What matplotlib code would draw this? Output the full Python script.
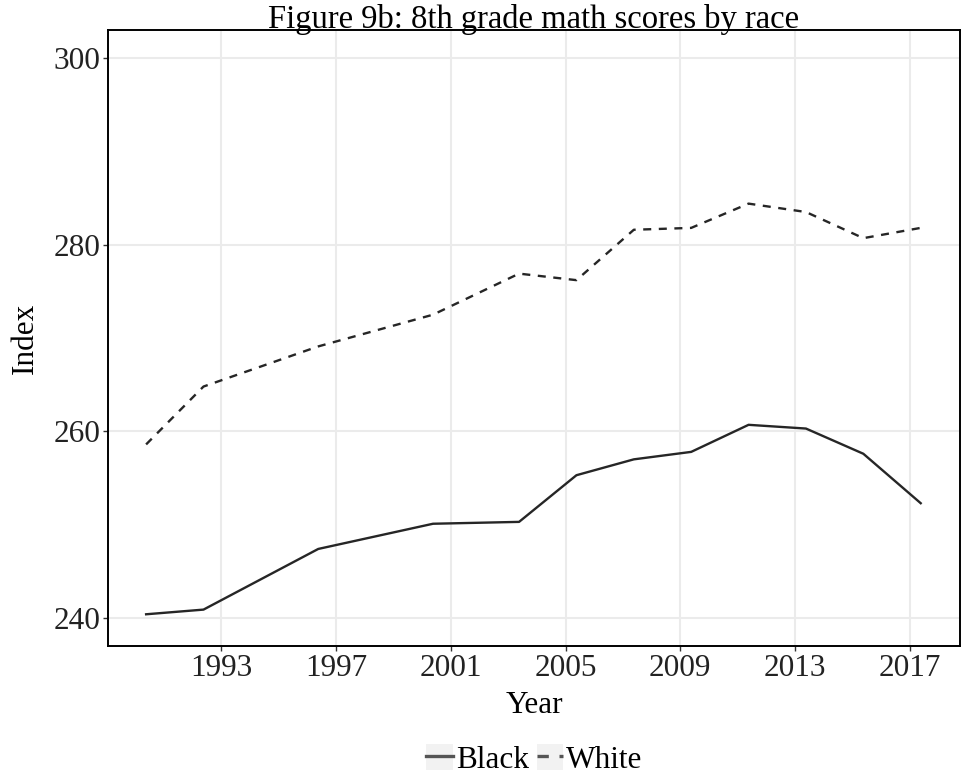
import matplotlib
matplotlib.use("Agg")
import matplotlib.pyplot as plt
import numpy as np
from matplotlib.legend_handler import HandlerLine2D
from matplotlib.patches import Rectangle

# NAEP 8th grade math, average scale score by race
years = [1990, 1992, 1996, 2000, 2003, 2005, 2007, 2009, 2011, 2013, 2015, 2017]
black = [240.4, 240.9, 247.4, 250.1, 250.3, 255.3, 257.0, 257.8, 260.7, 260.3, 257.6, 252.3]
white = [258.6, 264.8, 269.1, 272.5, 276.9, 276.2, 281.6, 281.8, 284.4, 283.5, 280.7, 281.8]

xticks = [1993, 1997, 2001, 2005, 2009, 2013, 2017]
yticks = [240, 260, 280, 300]

plt.rcParams['font.family'] = ['Liberation Serif', 'DejaVu Serif']
FS = 22.5
line_col = '#262626'
grid_col = '#ebebeb'


class KeyHandler(HandlerLine2D):
    # legend key drawn on a light grey square, ggplot style
    def create_artists(self, legend, orig_handle, xdescent, ydescent,
                       width, height, fontsize, trans):
        bg = Rectangle((-xdescent, -ydescent), width, height,
                       facecolor='#f2f2f2', edgecolor='none', transform=trans)
        arts = super().create_artists(legend, orig_handle, xdescent, ydescent,
                                      width, height, fontsize, trans)
        return [bg] + list(arts)


# survey dates fall in late spring, so points sit a bit past the year mark
x = np.array(years) + 0.38

fig = plt.figure(figsize=(9.63, 7.82), dpi=100)
ax = fig.add_axes([0.1121, 0.1739, 0.8848, 0.7877])

ax.plot(x, black, color=line_col, lw=1.7, solid_joinstyle='round', label='Black')
ax.plot(x, white, color=line_col, lw=1.7, linestyle=(0, (3.4, 3.2)), label='White')

ax.set_xlim(1989.05, 2018.75)
ax.set_ylim(237, 303)
ax.set_xticks(xticks)
ax.set_yticks(yticks)
ax.grid(True, color=grid_col, lw=1.5, zorder=0)
ax.set_axisbelow(True)

for s in ax.spines.values():
    s.set_linewidth(1.4)
    s.set_color('black')

ax.tick_params(axis='both', which='major', length=3.5, width=1.0, color='#333333',
               labelsize=FS, labelcolor='#222222', pad=2)

# title baseline sits right on the top border
ax.set_title('Figure 9b: 8th grade math scores by race', fontsize=23.5, y=1.003, pad=0)
ax.set_xlabel('Year', fontsize=FS, labelpad=6)
ax.set_ylabel('Index', fontsize=FS, labelpad=10)

handles, labels = ax.get_legend_handles_labels()
for h in handles:
    h.set_color('#555555')
    h.set_linewidth(2.4)
leg = fig.legend(handles, labels, loc='center', bbox_to_anchor=(0.555, 0.029),
                 ncol=2, frameon=False, fontsize=FS, handlelength=0.85,
                 handleheight=0.9, handletextpad=0.1, columnspacing=0.25,
                 handler_map={type(handles[0]): KeyHandler()})
for h in handles:
    h.set_color(line_col)
    h.set_linewidth(1.7)

fig.savefig('out.png', dpi=100)
